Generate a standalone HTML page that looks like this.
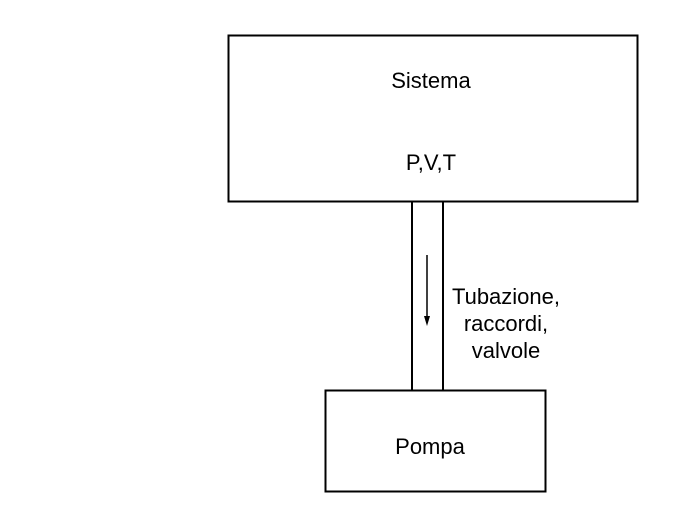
<!DOCTYPE html>
<html><head><style>body{margin:0;background:#fff;}svg{display:block}</style></head>
<body>
<svg width="683" height="512" viewBox="0 0 683 512" xmlns="http://www.w3.org/2000/svg" font-family="'Liberation Sans', sans-serif" font-size="22" fill="#000">
<rect x="228.5" y="35.5" width="409" height="166" fill="none" stroke="#000" stroke-width="2"/>
<line x1="412" y1="202" x2="412" y2="390" stroke="#000" stroke-width="2"/>
<line x1="443" y1="202" x2="443" y2="390" stroke="#000" stroke-width="2"/>
<rect x="325.5" y="390.5" width="220" height="101" fill="none" stroke="#000" stroke-width="2"/>
<line x1="427" y1="255" x2="427" y2="318" stroke="#000" stroke-width="1.5"/>
<polygon points="424,316 430,316 427,326" fill="#000"/>
<text x="431" y="88" text-anchor="middle">Sistema</text>
<text x="431" y="170" text-anchor="middle">P,V,T</text>
<text x="506" y="304" text-anchor="middle">Tubazione,</text>
<text x="506" y="331" text-anchor="middle">raccordi,</text>
<text x="506" y="358" text-anchor="middle">valvole</text>
<text x="430" y="454" text-anchor="middle">Pompa</text>
</svg>
</body></html>
